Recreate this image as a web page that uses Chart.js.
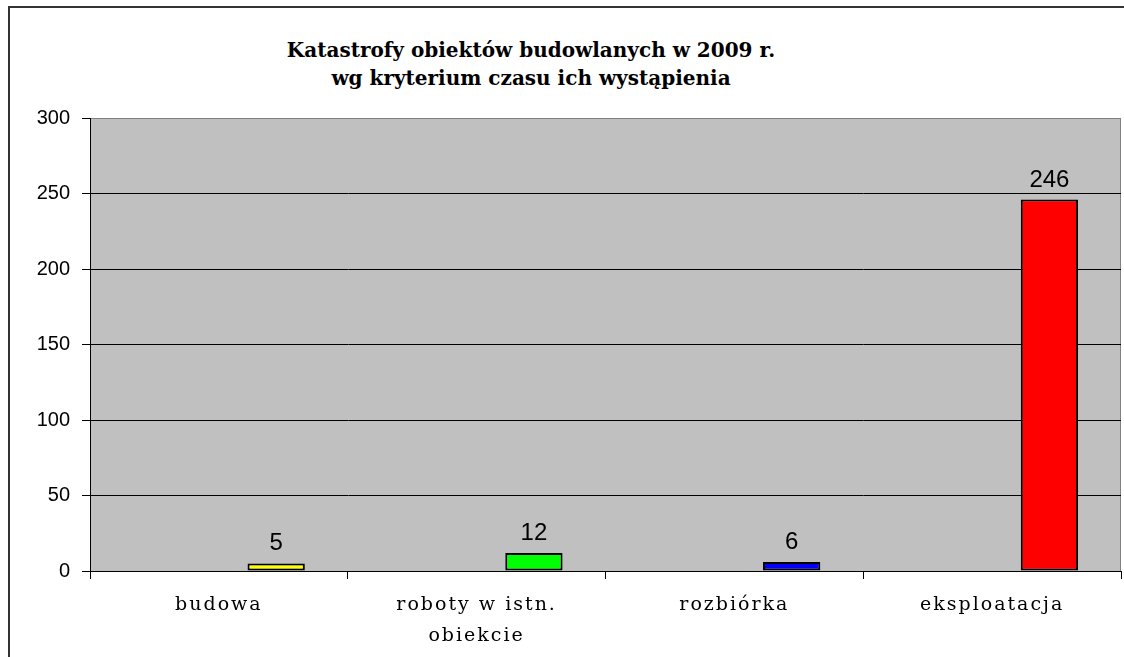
<!DOCTYPE html>
<html>
<head>
<meta charset="utf-8">
<script src="https://cdn.jsdelivr.net/npm/chart.js@4"></script>
<style>
  html, body { margin: 0; padding: 0; background: #fff; overflow: hidden; }
  #wrap { position: relative; width: 1124px; height: 657px; }
  #ramka { position: absolute; left: 8px; top: 6px; width: 1300px; height: 900px; border: 2px solid #333; }
  #tytul { position: absolute; left: 181px; top: 36px; width: 700px; text-align: center;
           font: bold 20px "DejaVu Serif", serif; line-height: 28px; color: #000; }
  canvas { position: absolute; left: 0; top: 0; }
</style>
</head>
<body>
<div id="wrap">
  <div id="ramka"></div>
  <div id="tytul">Katastrofy obiektów budowlanych w 2009 r.<br>wg kryterium czasu ich wystąpienia</div>
  <canvas id="wykres" width="1124" height="657"></canvas>
</div>
<script>
// dane
const kategorie = ['budowa', ['roboty w istn.', 'obiekcie'], 'rozbiórka', 'eksploatacja'];
const wartosci = [5, 12, 6, 246];
const kolory = ['#FFFF00', '#00FF00', '#0000FF', '#FF0000'];
const osY = { min: 0, max: 300, krok: 50 };
const pusta = kategorie.map(() => null); // dwie puste serie jak w arkuszu (3 serie, tylko ostatnia z danymi)

// szare tło obszaru wykresu + rozstrzelone etykiety osi X
const tloPlugin = {
    id: 'tlo',
    beforeDraw(chart) {
        const { ctx, chartArea: a } = chart;
        ctx.save();
        ctx.fillStyle = '#C0C0C0';
        ctx.fillRect(a.left, a.top, a.right - a.left, a.bottom - a.top);
        ctx.strokeStyle = '#808080';
        ctx.lineWidth = 1;
        ctx.strokeRect(a.left + 0.5, a.top + 0.5, a.right - a.left - 1, a.bottom - a.top);
        ctx.restore();

        const xs = chart.scales.x;
        if (!xs._rozstrzelone) {
            const oryg = xs.drawLabels.bind(xs);
            xs.drawLabels = function (area) {
                const poprz = chart.ctx.letterSpacing;
                chart.ctx.letterSpacing = '2px';
                oryg(area);
                chart.ctx.letterSpacing = poprz;
            };
            xs._rozstrzelone = true;
        }
    },
    afterDatasetsDraw(chart) {
        // etykiety wartości nad słupkami
        const meta = chart.getDatasetMeta(2);
        const ctx = chart.ctx;
        ctx.save();
        ctx.font = '24px "Liberation Sans", Arial, sans-serif';
        ctx.fillStyle = '#000';
        ctx.textAlign = 'center';
        ctx.textBaseline = 'alphabetic';
        meta.data.forEach((bar, i) => {
            ctx.fillText(String(wartosci[i]), bar.x, bar.y - 13);
        });
        ctx.restore();
    }
};

new Chart(document.getElementById('wykres'), {
    type: 'bar',
    data: {
        labels: kategorie,
        datasets: [
            { data: pusta },
            { data: pusta },
            {
                data: wartosci,
                backgroundColor: kolory,
                borderColor: '#000',
                borderWidth: 2,
                borderSkipped: false
            }
        ]
    },
    options: {
        responsive: false,
        animation: false,
        events: [],
        layout: { padding: { left: 0, top: 118, right: 3, bottom: 0 } },
        datasets: {
            bar: { categoryPercentage: 0.667, barPercentage: 1 }
        },
        plugins: {
            legend: { display: false },
            tooltip: { enabled: false },
            title: { display: false }
        },
        scales: {
            x: {
                afterFit(s) { s.height = 86; },
                grid: {
                    offset: true,
                    drawOnChartArea: false,
                    tickLength: 8,
                    tickColor: '#000',
                    color: '#000'
                },
                border: { color: '#000', width: 1 },
                ticks: {
                    color: '#000',
                    padding: 11,
                    maxRotation: 0,
                    autoSkip: false,
                    font: { family: '"DejaVu Serif", serif', size: 19, lineHeight: '31px' }
                }
            },
            y: {
                min: osY.min,
                max: osY.max,
                afterFit(s) { s.width = 90; },
                grid: {
                    color: (c) => (c.tick && c.tick.value === osY.max ? '#808080' : '#000'),
                    tickColor: '#000',
                    tickLength: 8
                },
                border: { color: '#000', width: 1 },
                ticks: {
                    stepSize: osY.krok,
                    color: '#000',
                    padding: 12,
                    font: { family: '"Liberation Sans", Arial, sans-serif', size: 20 }
                }
            }
        }
    },
    plugins: [tloPlugin]
});
</script>
</body>
</html>
